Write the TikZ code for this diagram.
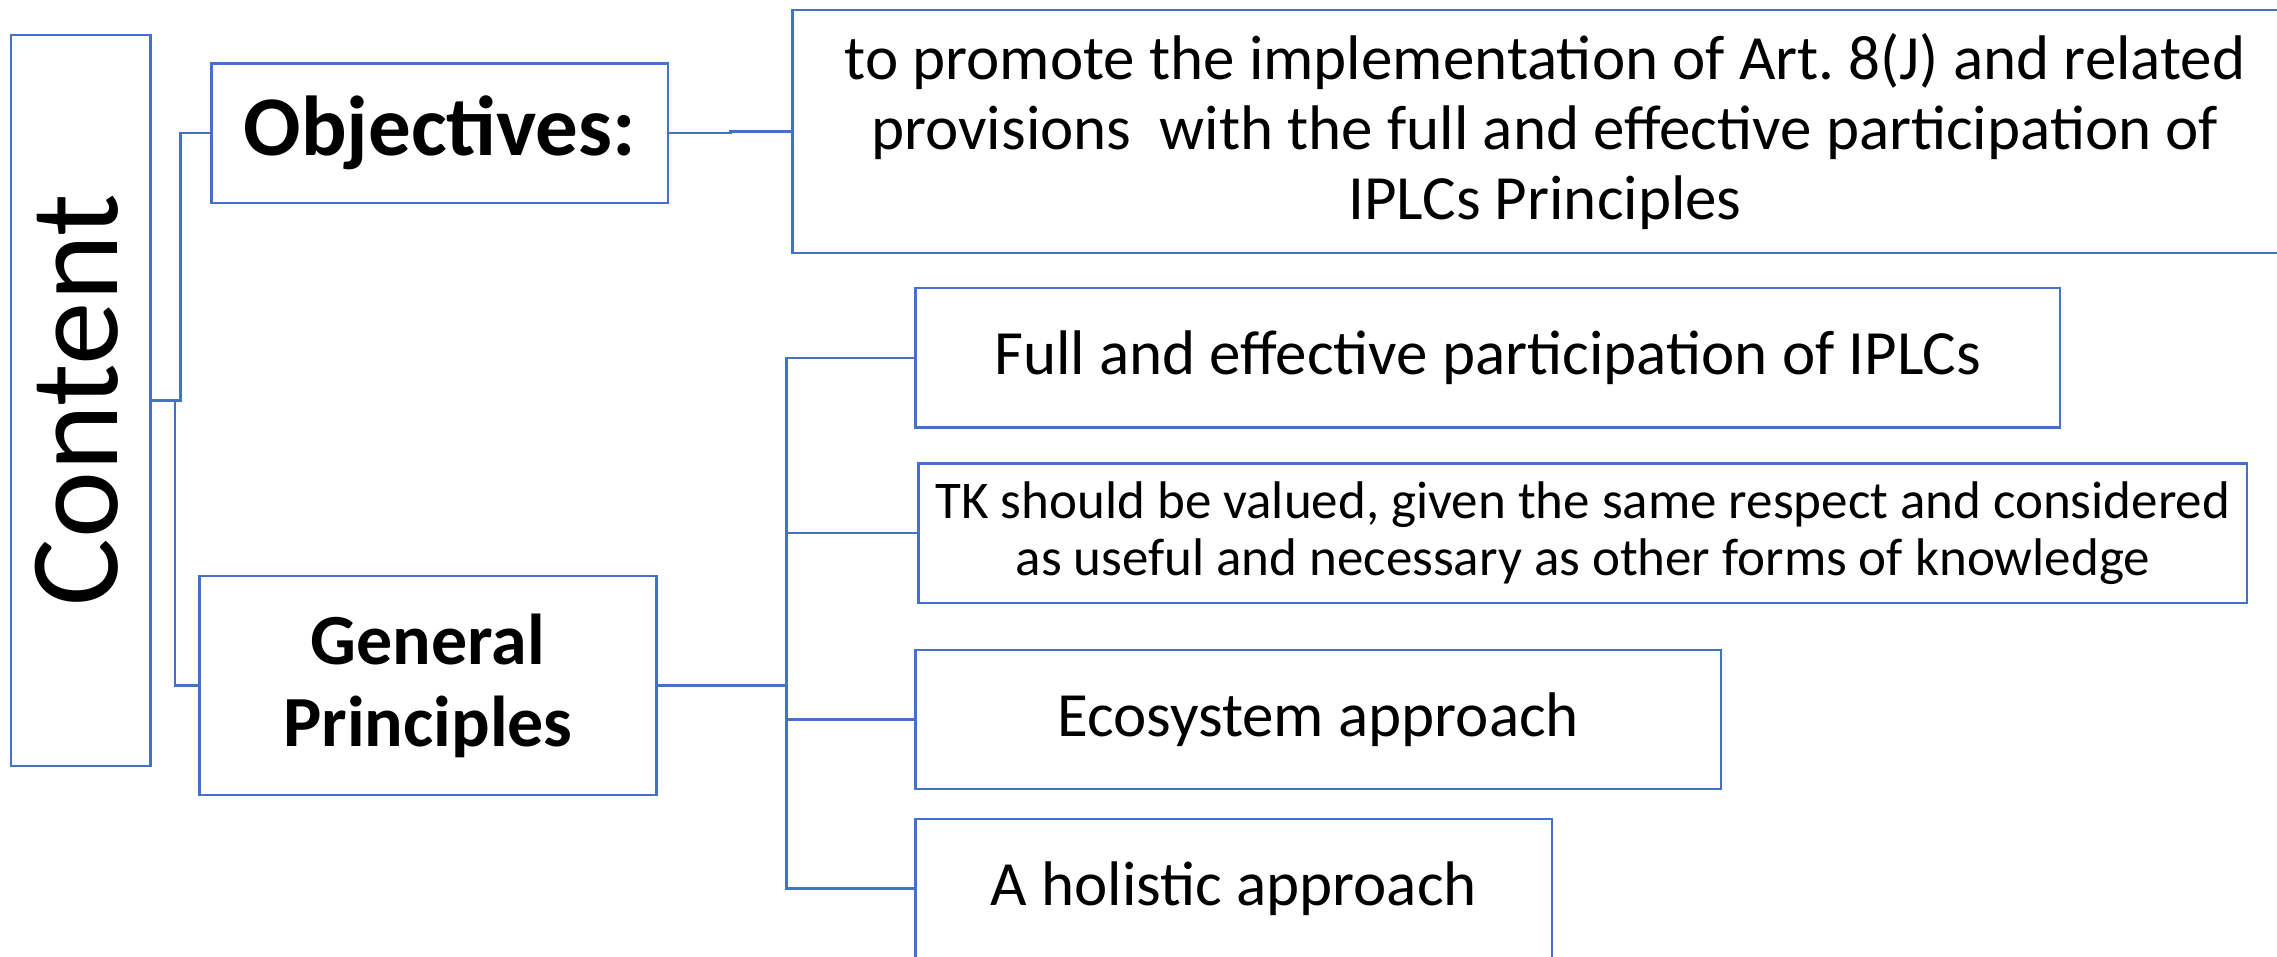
\documentclass[tikz,border=0pt]{standalone}
\usepackage{fontspec}
\setmainfont{Carlito}
\frenchspacing
\definecolor{lineblue}{HTML}{4472C4}
\tikzset{
  box/.style={draw=lineblue, line width=2.5pt, fill=white, inner sep=0pt, outer sep=0pt},
  conn/.style={draw=lineblue, line width=2.5pt},
  txtA/.style={font=\fontsize{63pt}{70pt}\selectfont, align=center},
  txtB/.style={font=\fontsize{53pt}{57pt}\selectfont, align=center},
}
\begin{document}
\begin{tikzpicture}[x=1pt,y=-1pt]
\useasboundingbox (0,0) rectangle (2277,957);
\fill[white] (0,0) rectangle (2277,957);
\clip (0,0) rectangle (2277,957);
% boxes
\node[box, minimum width=139.3pt, minimum height=731.2pt] (content) at (80.85,400.4) {};
\node[rotate=90, font=\fontsize{127pt}{130pt}\selectfont, inner sep=0pt] (contentlabel) at (77,400) {Content};
\node[box, minimum width=456.3pt, minimum height=139.6pt, font=\bfseries\fontsize{85pt}{90pt}\selectfont] (obj) at (439.85,133.2) {Objectives:};
\node[box, minimum width=457pt, minimum height=219pt, align=center, font=\bfseries\fontsize{72pt}{82pt}\selectfont] (gp) at (428,685.5) {General\\Principles};
\node[box, minimum width=1505pt, minimum height=243pt, txtA] (big) at (1545,131.5) {to promote the implementation of Art. 8(J) and related\\provisions\ \ with the full and effective participation of\\IPLCs Principles};
\node[box, minimum width=1144.5pt, minimum height=139pt, txtA] (full) at (1487.75,357.75) {Full and effective participation of IPLCs};
\node[box, minimum width=1328.3pt, minimum height=139.4pt, txtB] (tk) at (1582.85,533.1) {TK should be valued, given the same respect and considered\\as useful and necessary as other forms of knowledge};
\node[box, minimum width=805.5pt, minimum height=138.8pt, txtA] (eco) at (1318.25,719.4) {Ecosystem approach};
\node[box, minimum width=636.5pt, minimum height=139pt, txtA] (hol) at (1233.75,888.5) {A holistic approach};
% connectors
\draw[conn] (content.east) -- ++(30,0) |- (obj.west);
\draw[conn] (content.east) -- ++(24.5,0) |- (gp.west);
\draw[conn] (obj.east) -- ++(62.6,0) |- (big.west);
\draw[conn] (gp.east) -- ++(130,0) |- (full.west);
\draw[conn] (gp.east) -- ++(130,0) |- (tk.west);
\draw[conn] (gp.east) -- ++(130,0) |- (eco.west);
\draw[conn] (gp.east) -- ++(130,0) |- (hol.west);
\end{tikzpicture}
\end{document}
